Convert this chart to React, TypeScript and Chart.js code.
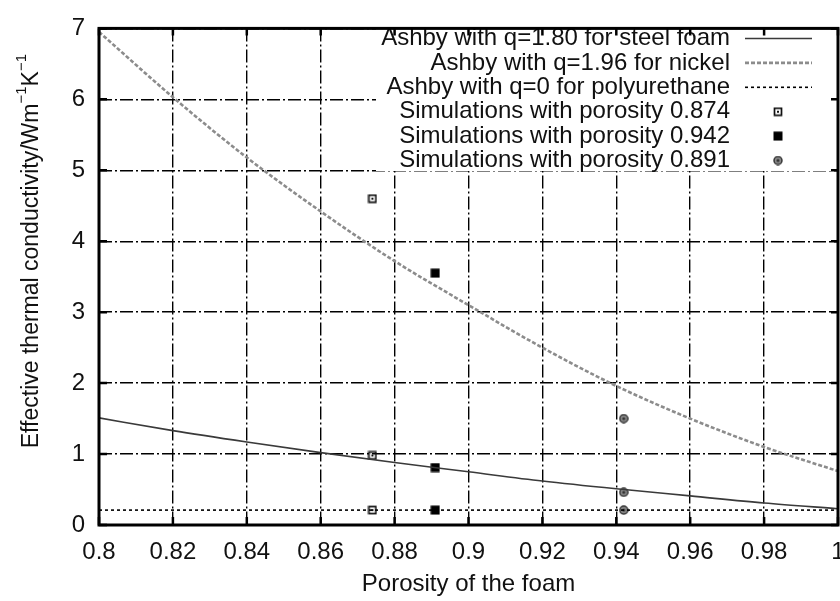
import React, { useEffect, useRef } from 'react';
import { Chart, registerables } from 'chart.js';

Chart.register(...registerables);

// ---- data ----
const porosity = [0.8, 0.82, 0.84, 0.86, 0.88, 0.9, 0.92, 0.94, 0.96, 0.98, 1.0];
const steelFoamQ180 = [1.51, 1.33, 1.17, 1.02, 0.88, 0.75, 0.62, 0.51, 0.41, 0.31, 0.23];
const nickelQ196 = [6.95, 6.03, 5.18, 4.42, 3.72, 3.1, 2.5, 1.96, 1.5, 1.1, 0.76];
const polyurethaneX = [0.8, 1.0];
const polyurethaneQ0 = [0.21, 0.21];
const sim874X = [0.874, 0.874, 0.874];
const sim874 = [4.6, 0.98, 0.21];
const sim942X = [0.891, 0.891, 0.891];
const sim942 = [3.55, 0.81, 0.21];
const sim891X = [0.942, 0.942, 0.942];
const sim891 = [1.5, 0.46, 0.21];

const xTickLabels = ['0.8', '0.82', '0.84', '0.86', '0.88', '0.9', '0.92', '0.94', '0.96', '0.98', '1'];
const yTickLabels = ['0', '1', '2', '3', '4', '5', '6', '7'];
const seriesLabels = [
  'Ashby with q=1.80 for steel foam',
  'Ashby with q=1.96 for nickel',
  'Ashby with q=0 for polyurethane',
  'Simulations with porosity 0.874',
  'Simulations with porosity 0.942',
  'Simulations with porosity 0.891',
];
const xTitle = 'Porosity of the foam';
const yTitleParts: [string, boolean][] = [
  ['Effective thermal conductivity/Wm', false],
  ['\u22121', true],
  ['K', false],
  ['\u22121', true],
];

const FONT = '"Liberation Sans", Arial, Helvetica, sans-serif';
const TEXT = '#111';

function zip(xs: number[], ys: number[]) {
  return xs.map((x, i) => ({ x, y: ys[i] }));
}

function makeMarker(kind: 'openSquare' | 'filledSquare' | 'circle') {
  const c = document.createElement('canvas');
  c.width = 10;
  c.height = 10;
  const g = c.getContext('2d')!;
  if (kind === 'openSquare') {
    g.strokeStyle = '#111';
    g.lineWidth = 1.7;
    g.strokeRect(1.5, 1.5, 7, 7);
    g.fillStyle = '#111';
    g.fillRect(4, 4, 2, 2);
  } else if (kind === 'filledSquare') {
    g.fillStyle = '#000';
    g.fillRect(0.5, 0.5, 9, 9);
  } else {
    g.beginPath();
    g.arc(5, 5, 4, 0, Math.PI * 2);
    g.fillStyle = '#8a8a8a';
    g.fill();
    g.lineWidth = 1.5;
    g.strokeStyle = '#333';
    g.stroke();
    g.beginPath();
    g.arc(5, 5, 1.6, 0, Math.PI * 2);
    g.fillStyle = '#333';
    g.fill();
  }
  return c;
}

const decorPlugin = {
  id: 'decor',
  afterDatasetsDraw(chart: any) {
    const { ctx, chartArea: a, scales } = chart;
    const xs = scales.x;
    const ys = scales.y;
    ctx.save();
    // opaque key box
    ctx.fillStyle = '#fff';
    ctx.fillRect(376, a.top, a.right - 376, 171 - a.top);
    // key
    ctx.font = `24px ${FONT}`;
    ctx.textAlign = 'right';
    ctx.textBaseline = 'middle';
    chart.data.datasets.forEach((ds: any, i: number) => {
      const yy = 38.5 + i * 24.4;
      ctx.fillStyle = TEXT;
      ctx.fillText(ds.label, 730, yy);
      if (ds.showLine) {
        ctx.beginPath();
        ctx.setLineDash(ds.borderDash || []);
        ctx.strokeStyle = ds.borderColor;
        ctx.lineWidth = ds.borderWidth;
        ctx.moveTo(745, yy);
        ctx.lineTo(812, yy);
        ctx.stroke();
        ctx.setLineDash([]);
      } else {
        const img = ds.pointStyle;
        ctx.drawImage(img, 778 - img.width / 2, yy - img.height / 2);
      }
    });
    // frame
    ctx.strokeStyle = '#000';
    ctx.lineWidth = 3;
    ctx.strokeRect(a.left, a.top, a.right - a.left, a.bottom - a.top);
    // inner ticks (mirrored)
    ctx.lineWidth = 2.5;
    ctx.beginPath();
    xs.ticks.forEach((t: any) => {
      const px = xs.getPixelForValue(t.value);
      ctx.moveTo(px, a.bottom);
      ctx.lineTo(px, a.bottom - 8);
      ctx.moveTo(px, a.top);
      ctx.lineTo(px, a.top + 7);
    });
    ys.ticks.forEach((t: any) => {
      const py = ys.getPixelForValue(t.value);
      ctx.moveTo(a.left, py);
      ctx.lineTo(a.left + 8, py);
      ctx.moveTo(a.right, py);
      ctx.lineTo(a.right - 7, py);
    });
    ctx.stroke();
    ctx.restore();
  },
  afterDraw(chart: any) {
    const { ctx } = chart;
    ctx.save();
    const big = `23px ${FONT}`;
    const small = `15px ${FONT}`;
    let w = 0;
    yTitleParts.forEach(([s, sup]) => {
      ctx.font = sup ? small : big;
      w += ctx.measureText(s).width;
    });
    ctx.translate(38, 54 + w);
    ctx.rotate(-Math.PI / 2);
    ctx.fillStyle = TEXT;
    ctx.textAlign = 'left';
    ctx.textBaseline = 'alphabetic';
    let x = 0;
    yTitleParts.forEach(([s, sup]) => {
      ctx.font = sup ? small : big;
      ctx.fillText(s, x, sup ? -12 : 0);
      x += ctx.measureText(s).width;
    });
    ctx.restore();
  },
};

export default function App() {
  const ref = useRef<HTMLCanvasElement | null>(null);
  useEffect(() => {
    if (!ref.current) return;
    const openSq = makeMarker('openSquare');
    const filledSq = makeMarker('filledSquare');
    const circ = makeMarker('circle');
    const chart = new Chart(ref.current, {
      type: 'scatter',
      data: {
        datasets: [
          {
            label: seriesLabels[0],
            data: zip(porosity, steelFoamQ180),
            showLine: true,
            borderColor: '#3a3a3a',
            borderWidth: 1.6,
            pointRadius: 0,
            cubicInterpolationMode: 'monotone',
          },
          {
            label: seriesLabels[1],
            data: zip(porosity, nickelQ196),
            showLine: true,
            borderColor: '#8c8c8c',
            borderWidth: 2.6,
            borderDash: [4, 2],
            pointRadius: 0,
            cubicInterpolationMode: 'monotone',
          },
          {
            label: seriesLabels[2],
            data: zip(polyurethaneX, polyurethaneQ0),
            showLine: true,
            borderColor: '#000',
            borderWidth: 1.6,
            borderDash: [3, 3],
            pointRadius: 0,
          },
          {
            label: seriesLabels[3],
            data: zip(sim874X, sim874),
            pointStyle: openSq,
            pointRadius: 5,
          },
          {
            label: seriesLabels[4],
            data: zip(sim942X, sim942),
            pointStyle: filledSq,
            pointRadius: 5,
          },
          {
            label: seriesLabels[5],
            data: zip(sim891X, sim891),
            pointStyle: circ,
            pointRadius: 5,
          },
        ] as any,
      },
      options: {
        animation: false,
        responsive: false,
        devicePixelRatio: 1,
        layout: { padding: { left: 0, top: 18, right: 22, bottom: 0 } },
        plugins: { legend: { display: false }, tooltip: { enabled: false } },
        scales: {
          x: {
            type: 'linear',
            min: 0.8,
            max: 1.0,
            afterFit: (s: any) => {
              s.height = 76;
            },
            afterBuildTicks: (s: any) => {
              s.ticks = xTickLabels.map((_, i) => ({ value: porosity[i] }));
            },
            ticks: {
              autoSkip: false,
              maxRotation: 0,
              padding: 13,
              color: TEXT,
              font: { family: FONT, size: 24 },
              callback: (_v: any, i: number) => xTickLabels[i],
            },
            grid: {
              color: '#000',
              lineWidth: 1.4,
              drawTicks: false,
              borderDash: [13, 3, 2, 3],
            } as any,
            border: { display: false, dash: [13, 3, 2, 3] },
            title: {
              display: true,
              text: xTitle,
              color: TEXT,
              font: { family: FONT, size: 24 },
              padding: { top: 0, bottom: 2 },
            },
          },
          y: {
            type: 'linear',
            min: 0,
            max: 7,
            afterFit: (s: any) => {
              s.width = 99;
            },
            afterBuildTicks: (s: any) => {
              s.ticks = yTickLabels.map((_, i) => ({ value: i }));
            },
            ticks: {
              autoSkip: false,
              padding: 14,
              color: TEXT,
              font: { family: FONT, size: 24 },
              callback: (_v: any, i: number) => yTickLabels[i],
            },
            grid: {
              color: '#000',
              lineWidth: 1.4,
              drawTicks: false,
              borderDash: [13, 3, 2, 3],
            } as any,
            border: { display: false, dash: [13, 3, 2, 3] },
          },
        },
      } as any,
      plugins: [decorPlugin],
    });
    return () => chart.destroy();
  }, []);
  return (
    <canvas
      ref={ref}
      width={860}
      height={601}
      style={{ position: 'fixed', left: 0, top: 0, background: '#fff' }}
    />
  );
}
